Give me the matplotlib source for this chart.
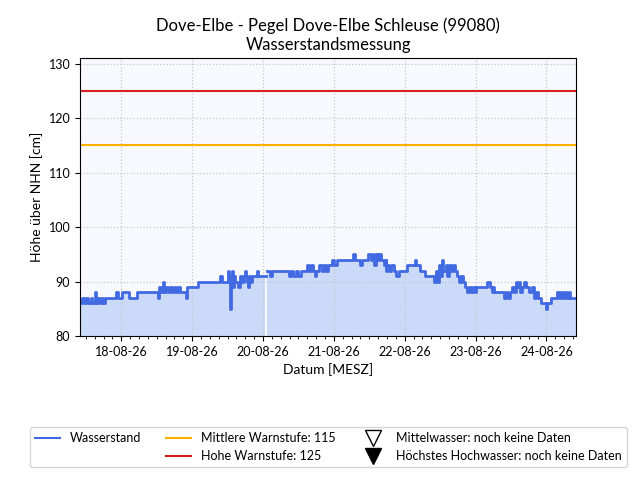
import numpy as np
import pandas as pd
import matplotlib
matplotlib.use("Agg")
import matplotlib.pyplot as plt
import matplotlib.dates as mdates
from matplotlib.lines import Line2D

plt.rcParams['font.family'] = ['Lato', 'DejaVu Sans']

# Data: hours since 2026-08-17 10:00 (MESZ) and water level [cm] (step changes)
start_time = "2026-08-17 10:00"
hours = [0, 0.7, 1.4, 2.0, 2.7, 3.7, 4.1, 5.1, 5.4, 6.1, 6.8, 7.4, 7.8, 8.5,
         12.2, 12.9, 14.2, 16.6, 19.3, 26.4, 26.7, 27.4, 28.1, 28.4, 29.1, 29.8,
         30.4, 31.1, 31.8, 32.5, 33.1, 33.8, 35.8, 36.2, 39.9, 47.3, 48.0, 50.0,
         50.4, 50.7, 51.1, 51.4, 51.7, 52.1, 52.4, 53.4, 54.1, 54.8, 55.5, 55.8,
         56.1, 56.5, 56.8, 57.1, 57.5, 58.2, 59.8, 60.2, 62.5, 62.9, 63.3, 64.2, 64.9,
         70.7, 71.3, 72.0, 73.0, 73.7, 74.7, 76.8, 77.4, 78.1, 78.8, 79.5, 80.1,
         81.1, 81.8, 82.5, 83.2, 83.9, 85.5, 86.2, 86.9, 92.3, 93.3, 95.0, 95.4,
         97.7, 98.4, 99.1, 99.7, 100.1, 100.8, 101.4, 102.1, 102.8, 103.5, 103.8,
         104.1, 104.8, 105.5, 106.2, 107.2, 108.2, 110.6, 113.6, 113.9, 115.0,
         116.7, 120.0, 120.7, 121.1, 121.7, 122.1, 122.7, 123.1, 123.8, 124.4,
         125.1, 125.8, 126.5, 127.1, 127.8, 128.5, 129.2, 129.8, 130.5, 131.2,
         131.9, 132.5, 133.2, 133.9, 134.2, 138.0, 139.0, 139.6, 140.0, 140.3,
         143.7, 144.4, 145.1, 145.7, 146.4, 147.1, 147.7, 148.1, 148.8, 149.1,
         149.8, 150.4, 151.1, 152.1, 153.2, 153.8, 154.5, 155.2, 156.2, 157.9,
         158.2, 159.6, 161.6, 162.3, 163.0, 163.6, 164.3, 165.0, 165.7, 166.0, 168.0]
levels = [86, 87, 86, 87, 86, 87, 86, 88, 86, 87, 86, 87, 86, 87,
          88, 87, 88, 87, 88, 87, 89, 88, 90, 88, 89, 88,
          89, 88, 89, 88, 89, 88, 87, 89, 90, 91, 90, 92,
          90, 85, 91, 92, 89, 91, 90, 89, 91, 90, 91, 92,
          91, 90, 89, 91, 90, 91, 92, 91, 91, np.nan, 92, 91, 92,
          91, 92, 91, 92, 91, 92, 93, 92, 93, 92, 91, 92,
          93, 92, 93, 92, 93, 94, 93, 94, 95, 94, 93, 94,
          95, 94, 95, 93, 95, 94, 95, 94, 93, 94, 92,
          93, 92, 93, 92, 91, 92, 93, 94, 93, 92,
          91, 90, 92, 90, 93, 91, 94, 92, 93, 91,
          93, 92, 93, 92, 91, 90, 91, 90, 89, 88,
          89, 88, 89, 88, 89, 90, 89, 88, 89, 88,
          87, 88, 87, 88, 89, 88, 90, 89, 90, 88,
          89, 90, 89, 88, 89, 87, 88, 87, 86, 85,
          86, 87, 88, 87, 88, 87, 88, 87, 88, 87, 87]

warn_mid = 115
warn_high = 125
legend_labels = ["Wasserstand", "Mittlere Warnstufe: 115", "Hohe Warnstufe: 125",
                 "Mittelwasser: noch keine Daten", "Höchstes Hochwasser: noch keine Daten"]

t = pd.Timestamp(start_time) + pd.to_timedelta(hours, unit="h")
v = np.array(levels, dtype=float)

fig = plt.figure(figsize=(6.4, 4.8), dpi=100)
ax = fig.add_axes([0.125, 0.3, 0.775, 0.579])
ax.set_facecolor("#f8f8ff")

ax.fill_between(t, v, 80, step="post", color="cornflowerblue", alpha=0.3, linewidth=0)
ax.plot(t, v, drawstyle="steps-post", color="royalblue", lw=2.0)
ax.axhline(warn_mid, color="#ffb000", lw=1.5)
ax.axhline(warn_high, color="#d62020", lw=1.5)

ax.set_ylim(80, 131)
ax.set_yticks([80, 90, 100, 110, 120, 130])
ax.set_xlim(t[0], t[-1])
ax.xaxis.set_major_locator(mdates.DayLocator())
ax.xaxis.set_major_formatter(mdates.DateFormatter("%d-%m-%y"))
ax.xaxis.set_minor_locator(mdates.HourLocator(byhour=range(0, 24, 3)))
ax.grid(True, which="major", linestyle=":", color="#c8c8c8", lw=0.9)
ax.tick_params(labelsize=9)
ax.set_xlabel("Datum [MESZ]", fontsize=10)
ax.set_ylabel("Höhe über NHN [cm]", fontsize=10)
ax.set_title("Dove-Elbe - Pegel Dove-Elbe Schleuse (99080)\nWasserstandsmessung", fontsize=12)

handles = [
    Line2D([], [], color="royalblue", lw=1.5),
    Line2D([], [], color="none"),
    Line2D([], [], color="#ffb000", lw=1.5),
    Line2D([], [], color="#d62020", lw=1.5),
    Line2D([], [], marker="v", linestyle="none", markerfacecolor="white",
           markeredgecolor="black", markersize=11),
    Line2D([], [], marker="v", linestyle="none", markerfacecolor="black",
           markeredgecolor="black", markersize=11),
]
labels = [legend_labels[0], "", legend_labels[1], legend_labels[2],
          legend_labels[3], legend_labels[4]]
fig.legend(handles, labels, ncol=3, loc="center", bbox_to_anchor=(0.513, 0.068),
           fontsize=9, frameon=True, fancybox=True)

fig.savefig("out.png", dpi=100)
